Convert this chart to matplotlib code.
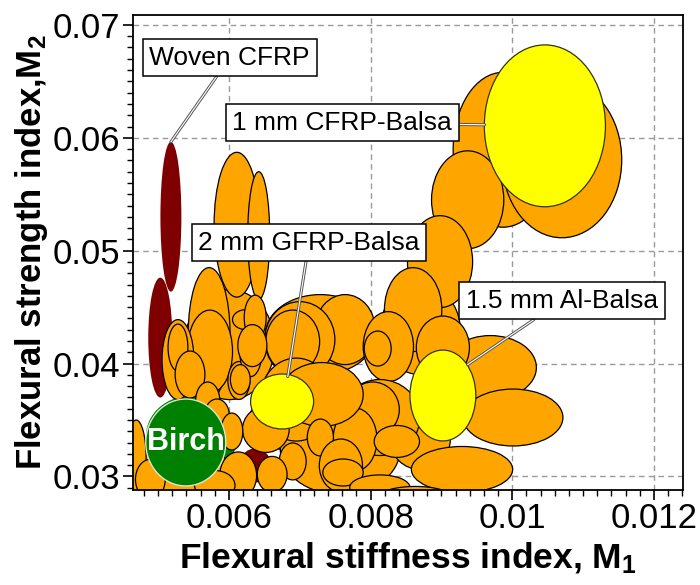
import matplotlib
matplotlib.use('Agg')
import matplotlib.pyplot as plt
import matplotlib.patheffects as pe
from matplotlib.patches import Ellipse
from matplotlib.ticker import FixedLocator, MultipleLocator

plt.rcParams['font.family'] = ['Liberation Sans', 'DejaVu Sans']
plt.rcParams['mathtext.fontset'] = 'custom'
plt.rcParams['mathtext.rm'] = 'Liberation Sans'
plt.rcParams['mathtext.bf'] = 'Liberation Sans:bold'

# sandwich candidates: centre (M1, M2) and spread (width in M1, height in M2)
orange_m1 = [0.00601, 0.00729, 0.00679, 0.00757, 0.00870, 0.00531, 0.00870,
             0.00987, 0.01070, 0.00937, 0.00898, 0.00860, 0.00969, 0.01001, 0.00902, 0.00929, 0.00764,
             0.00825, 0.00810, 0.00813, 0.00803, 0.00778, 0.00837, 0.00768, 0.00700, 0.00690, 0.00695,
             0.00731, 0.00652, 0.00729, 0.00758, 0.00761, 0.00690, 0.00661, 0.00613, 0.00611, 0.00642,
             0.00572, 0.00573, 0.00528, 0.00528, 0.00545, 0.00570, 0.00583, 0.00604, 0.00614, 0.00631,
             0.00624, 0.00637, 0.00633, 0.00616, 0.00469, 0.00517, 0.00580, 0.00489, 0.00813, 0.00863]
orange_m2 = [0.04168, 0.04257, 0.03504, 0.03239, 0.04301, 0.03062, 0.03327,
             0.05894, 0.05805, 0.05451, 0.04903, 0.04478, 0.03965, 0.03522, 0.04142, 0.03062, 0.04301,
             0.04150, 0.04133, 0.03522, 0.03593, 0.03327, 0.03310, 0.03699, 0.04212, 0.04195, 0.03681,
             0.03726, 0.03416, 0.03345, 0.03097, 0.03035, 0.03133, 0.03018, 0.03009, 0.05230, 0.05133,
             0.04266, 0.04106, 0.04035, 0.04142, 0.03903, 0.03673, 0.03540, 0.03398, 0.03850, 0.04124,
             0.04389, 0.04407, 0.04159, 0.03858, 0.03168, 0.02885, 0.02920, 0.02974, 0.02903, 0.02823]
orange_w = [0.00127, 0.00155, 0.00099, 0.00169, 0.00113, 0.00141, 0.00085,
            0.00141, 0.00169, 0.00102, 0.00092, 0.00081, 0.00130, 0.00141, 0.00075, 0.00143, 0.00085,
            0.00071, 0.00038, 0.00113, 0.00075, 0.00062, 0.00064, 0.00037, 0.00099, 0.00076, 0.00103,
            0.00117, 0.00066, 0.00037, 0.00061, 0.00057, 0.00038, 0.00042, 0.00052, 0.00064, 0.00031,
            0.00059, 0.00064, 0.00045, 0.00028, 0.00042, 0.00034, 0.00035, 0.00031, 0.00031, 0.00032,
            0.00038, 0.00031, 0.00041, 0.00028, 0.00028, 0.00085, 0.00057, 0.00042, 0.00085, 0.00099]
orange_h = [0.00974, 0.00708, 0.00531, 0.00797, 0.00797, 0.00443, 0.00531,
            0.01372, 0.01381, 0.00867, 0.00814, 0.00743, 0.00566, 0.00504, 0.00558, 0.00407, 0.00620,
            0.00620, 0.00310, 0.00673, 0.00487, 0.00558, 0.00283, 0.00274, 0.00673, 0.00558, 0.00735,
            0.00566, 0.00407, 0.00327, 0.00469, 0.00239, 0.00327, 0.00319, 0.00416, 0.01283, 0.01133,
            0.01168, 0.00735, 0.00708, 0.00416, 0.00416, 0.00327, 0.00292, 0.00327, 0.00336, 0.00478,
            0.00177, 0.00398, 0.00372, 0.00265, 0.00664, 0.00265, 0.00265, 0.00354, 0.00221, 0.00177]

woven_m1 = [0.00518, 0.00503, 0.00637]
woven_m2 = [0.05301, 0.04230, 0.03097]
woven_w = [0.000296, 0.000339, 0.000452]
woven_h = [0.01327, 0.01062, 0.00301]

birch_m1 = [0.00548, 0.00539]
birch_m2 = [0.03363, 0.03301]
birch_w = [0.00130, 0.00113]
birch_h = [0.00708, 0.00770]

# highlighted sandwiches: CFRP-Balsa, GFRP-Balsa, Al-Balsa
yellow_m1 = [0.01046, 0.00675, 0.00902]
yellow_m2 = [0.06106, 0.03664, 0.03717]
yellow_w = [0.00171, 0.00089, 0.00093]
yellow_h = [0.01434, 0.00487, 0.00805]

labels = ['Woven CFRP', '1 mm CFRP-Balsa', '2 mm GFRP-Balsa', '1.5 mm Al-Balsa']
label_m1 = [0.00601, 0.00760, 0.00713, 0.01070]
label_m2 = [0.06708, 0.06133, 0.05071, 0.04558]
tip_m1 = [0.00518, 0.00961, 0.00683, 0.00937]
tip_m2 = [0.05964, 0.06115, 0.03885, 0.03991]

xticks = [0.006, 0.008, 0.01, 0.012]
xtick_labels = ['0.006', '0.008', '0.01', '0.012']
yticks = [0.03, 0.04, 0.05, 0.06, 0.07]
ytick_labels = ['0.03', '0.04', '0.05', '0.06', '0.07']

fig = plt.figure(figsize=(7, 5.85), dpi=100)
ax = fig.add_axes([0.19, 0.1624, 0.7857, 0.812])

for i in range(len(woven_m1)):
    ax.add_patch(Ellipse((woven_m1[i], woven_m2[i]), woven_w[i], woven_h[i],
                         fc='#7f0000', ec='none', zorder=2))
ax.add_patch(Ellipse((birch_m1[0], birch_m2[0]), birch_w[0], birch_h[0],
                     fc='#008000', ec='none', zorder=2))

for i in range(len(orange_m1)):
    ax.add_patch(Ellipse((orange_m1[i], orange_m2[i]), orange_w[i], orange_h[i],
                         fc='#ffa500', ec='black', lw=0.9, zorder=3))

ax.add_patch(Ellipse((birch_m1[1], birch_m2[1]), birch_w[1], birch_h[1],
                     fc='#008000', ec='#d8e8d8', lw=1, zorder=4))
ax.text(birch_m1[1], birch_m2[1], 'Birch', color='white', fontsize=22, fontweight='bold',
        ha='center', va='center', zorder=5)

for i in range(len(yellow_m1)):
    ax.add_patch(Ellipse((yellow_m1[i], yellow_m2[i]), yellow_w[i], yellow_h[i],
                         fc='#ffff00', ec='#333300', lw=0.9, zorder=4))

for i in range(len(labels)):
    ax.annotate(labels[i], xy=(tip_m1[i], tip_m2[i]), xytext=(label_m1[i], label_m2[i]),
                fontsize=19, ha='center', va='center', zorder=6,
                bbox=dict(boxstyle='square,pad=0.25', fc='white', ec='black', lw=1.1),
                arrowprops=dict(arrowstyle='-', color='white', lw=0.8, shrinkA=0, shrinkB=0,
                                path_effects=[pe.Stroke(linewidth=2.2, foreground='#555555'), pe.Normal()]))

ax.set_xlim(0.004645, 0.01241)
ax.set_ylim(0.0288, 0.07088)
ax.xaxis.set_major_locator(FixedLocator(xticks))
ax.set_xticklabels(xtick_labels)
ax.yaxis.set_major_locator(FixedLocator(yticks))
ax.set_yticklabels(ytick_labels)
ax.xaxis.set_minor_locator(MultipleLocator(0.0002))
ax.yaxis.set_minor_locator(MultipleLocator(0.001))
ax.tick_params(which='major', direction='out', length=7, width=1.2, labelsize=25, pad=2)
ax.tick_params(which='minor', direction='out', length=4, width=1)
ax.grid(True, which='major', color='#999999', linestyle=(0, (4, 3)), lw=1)
ax.set_axisbelow(True)
for s in ax.spines.values():
    s.set_linewidth(1.3)
    s.set_zorder(7)

ax.set_xlabel(r'Flexural stiffness index, $\mathbf{M_1}$', fontsize=25.5, fontweight='bold', labelpad=4)
ax.set_ylabel(r'Flexural strength index,$\mathbf{M_2}$', fontsize=25, fontweight='bold', labelpad=2)

fig.savefig('out.png', dpi=100)
